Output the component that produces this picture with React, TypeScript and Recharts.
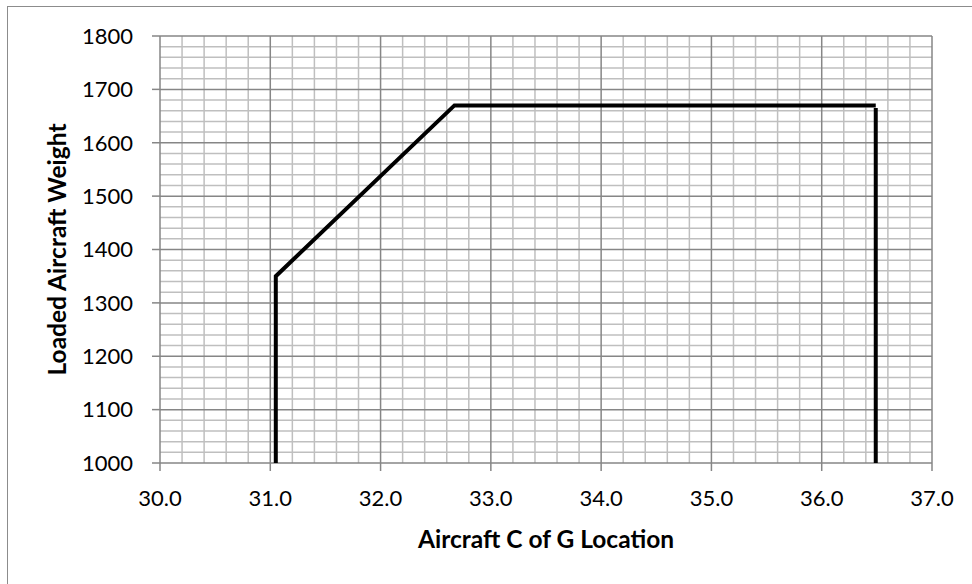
import { LineChart, Line, XAxis, YAxis, ReferenceLine } from "recharts";

// forward / upper envelope
const envelopeCg = [31.05, 31.05, 32.67, 36.49];
const envelopeWeight = [1000, 1350, 1670, 1670];
// aft limit
const aftCg = [36.49, 36.49];
const aftWeight = [1665, 1000];

const xTicks = [30, 31, 32, 33, 34, 35, 36, 37];
const yTicks = [1000, 1100, 1200, 1300, 1400, 1500, 1600, 1700, 1800];

// minor grid every 0.2 on x and every 20 on y
const xMinor: number[] = [];
for (let i = 0; i <= 35; i++) if (i % 5 !== 0) xMinor.push(Math.round((30 + i * 0.2) * 10) / 10);
const yMinor: number[] = [];
for (let i = 0; i <= 40; i++) if (i % 5 !== 0) yMinor.push(1000 + i * 20);

const envelope = envelopeCg.map((cg, i) => ({ cg, w: envelopeWeight[i] }));
const aft = aftCg.map((cg, i) => ({ cg, w: aftWeight[i] }));

const FONT = "Lato, 'Open Sans', sans-serif";
const MAJOR = "#868686";
const MINOR = "#bfbfbf";
const TICK = { fill: "#000", fontSize: 22, fontFamily: FONT };

export default function App() {
  return (
    <div style={{ position: "absolute", left: 0, top: 0, width: 972, height: 584, background: "#fff", overflow: "hidden" }}>
      <div
        style={{
          position: "absolute",
          left: 7,
          top: 6,
          width: 1200,
          height: 800,
          border: "1.5px solid #8c8c8c",
        }}
      />
      <div style={{ position: "absolute", left: 0, top: 0 }}>
        <LineChart width={972} height={584} margin={{ top: 36, right: 40, bottom: 0, left: 0 }}>
          <XAxis
            type="number"
            dataKey="cg"
            domain={[30, 37]}
            ticks={xTicks}
            tickFormatter={(v: number) => v.toFixed(1)}
            allowDataOverflow
            height={121}
            tick={TICK}
            tickSize={8}
            tickMargin={19}
            axisLine={false}
            tickLine={{ stroke: MAJOR, strokeWidth: 1.5 }}
            label={{
              content: (props: any) => {
                const vb = props.viewBox;
                return (
                  <text
                    x={vb.x + vb.width / 2}
                    y={vb.y + 85}
                    textAnchor="middle"
                    fontFamily={FONT}
                    fontWeight="bold"
                    fontSize={24.5}
                    fill="#000"
                  >
                    Aircraft C of G Location
                  </text>
                );
              },
            }}
          />
          <YAxis
            type="number"
            dataKey="w"
            domain={[1000, 1800]}
            ticks={yTicks}
            allowDataOverflow
            width={160}
            tick={TICK}
            tickSize={8}
            tickMargin={19}
            axisLine={false}
            tickLine={{ stroke: MAJOR, strokeWidth: 1.5 }}
            label={{
              content: (props: any) => {
                const vb = props.viewBox;
                const cx = vb.x + 66;
                const cy = vb.y + vb.height / 2;
                return (
                  <text
                    x={cx}
                    y={cy}
                    transform={`rotate(-90, ${cx}, ${cy})`}
                    textAnchor="middle"
                    fontFamily={FONT}
                    fontWeight="bold"
                    fontSize={24.5}
                    fill="#000"
                  >
                    Loaded Aircraft Weight
                  </text>
                );
              },
            }}
          />
          {xMinor.map((v) => (
            <ReferenceLine key={`xm${v}`} x={v} stroke={MINOR} strokeWidth={1.5} />
          ))}
          {yMinor.map((v) => (
            <ReferenceLine key={`ym${v}`} y={v} stroke={MINOR} strokeWidth={1.5} />
          ))}
          {xTicks.map((v) => (
            <ReferenceLine key={`xM${v}`} x={v} stroke={MAJOR} strokeWidth={1.5} />
          ))}
          {yTicks.map((v) => (
            <ReferenceLine key={`yM${v}`} y={v} stroke={MAJOR} strokeWidth={1.5} />
          ))}
          <Line
            data={envelope}
            dataKey="w"
            type="linear"
            stroke="#000"
            strokeWidth={4}
            strokeLinejoin="miter"
            dot={false}
            activeDot={false}
            isAnimationActive={false}
          />
          <Line
            data={aft}
            dataKey="w"
            type="linear"
            stroke="#000"
            strokeWidth={4}
            dot={false}
            activeDot={false}
            isAnimationActive={false}
          />
        </LineChart>
      </div>
    </div>
  );
}
